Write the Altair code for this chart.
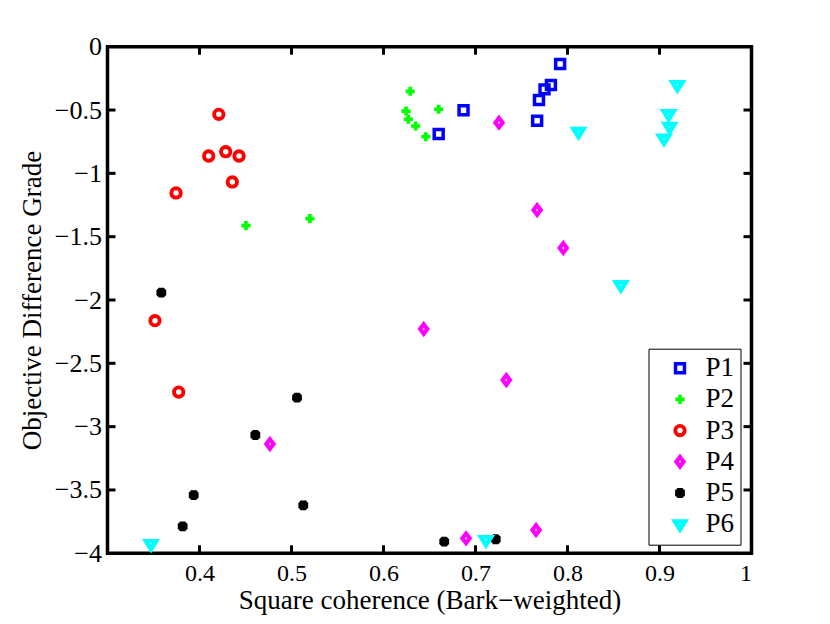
import altair as alt
import pandas as pd

series = ["P1", "P2", "P3", "P4", "P5", "P6"]
colors = ["#0000ff", "#00ff00", "#ff0000", "#ff00ff", "#000000", "#00ffff"]

p1_x = [0.660, 0.687, 0.767, 0.769, 0.775, 0.782, 0.792]
p1_y = [-0.689, -0.502, -0.584, -0.421, -0.337, -0.302, -0.137]
p2_x = [0.629, 0.6245, 0.627, 0.635, 0.646, 0.660, 0.4505, 0.520]
p2_y = [-0.352, -0.508, -0.573, -0.626, -0.711, -0.494, -1.413, -1.358]
p3_x = [0.421, 0.410, 0.4285, 0.443, 0.4357, 0.3745, 0.3516, 0.3774]
p3_y = [-0.534, -0.863, -0.829, -0.863, -1.068, -1.155, -2.163, -2.727]
p4_x = [0.7255, 0.767, 0.7954, 0.6437, 0.4766, 0.7335, 0.6897, 0.7658]
p4_y = [-0.600, -1.289, -1.589, -2.229, -3.137, -2.632, -3.882, -3.816]
p5_x = [0.3585, 0.506, 0.4607, 0.3937, 0.3817, 0.5128, 0.666, 0.722]
p5_y = [-1.942, -2.771, -3.066, -3.540, -3.787, -3.621, -3.908, -3.889]
p6_x = [0.9194, 0.910, 0.9111, 0.9049, 0.812, 0.858, 0.7114, 0.3473]
p6_y = [-0.302, -0.531, -0.632, -0.724, -0.671, -1.882, -3.895, -3.927]

x_ticks = [0.4, 0.5, 0.6, 0.7, 0.8, 0.9, 1.0]
y_ticks = [-4, -3.5, -3, -2.5, -2, -1.5, -1, -0.5, 0]
x_inner_ticks = [0.4, 0.5, 0.6, 0.7, 0.8, 0.9]
y_inner_ticks = [-3.5, -3, -2.5, -2, -1.5, -1, -0.5]

xs = [p1_x, p2_x, p3_x, p4_x, p5_x, p6_x]
ys = [p1_y, p2_y, p3_y, p4_y, p5_y, p6_y]
rows = []
for s, xv, yv in zip(series, xs, ys):
    for a, b in zip(xv, yv):
        rows.append({"series": s, "x": a, "y": b})
df = pd.DataFrame(rows)

shapes = [
    "square",
    "M-1,0L1,0M0,-1L0,1",
    "circle",
    "M0,-1L0.76,0L0,1L-0.76,0Z",
    "M-1,0L1,0M0,-1L0,1M-0.75,-0.75L0.75,0.75M-0.75,0.75L0.75,-0.75",
    "M-1,-0.55L1,-0.55L0,1.05Z",
]
sizes = [80, 100, 110, 320, 60, 260]
widths = [3.5, 4.5, 4, 2.8, 1.8, 3.5]

W = 644
H = 506.6
FONT = "Liberation Serif"

xscale = alt.Scale(domain=[0.3, 1.0], nice=False, zero=False)
yscale = alt.Scale(domain=[-4, 0], nice=False, zero=False)

points = alt.Chart(df).mark_point(filled=False, opacity=1).encode(
    x=alt.X("x:Q", scale=xscale,
            axis=alt.Axis(values=x_ticks, format="~g", title="Square coherence (Bark\u2212weighted)",
                          labelPadding=8, labelFontSize=24,
                          titleBaseline="alphabetic", titleY=55)),
    y=alt.Y("y:Q", scale=yscale,
            axis=alt.Axis(values=y_ticks, format="~g", title="Objective Difference Grade",
                          labelPadding=6, labelFontSize=26,
                          titleBaseline="alphabetic", titleX=-67)),
    color=alt.Color("series:N", scale=alt.Scale(domain=series, range=colors),
                    legend=alt.Legend(title=None, orient="none", legendX=541, legendY=302)),
    shape=alt.Shape("series:N", scale=alt.Scale(domain=series, range=shapes)),
    size=alt.Size("series:N", scale=alt.Scale(domain=series, range=sizes)),
    strokeWidth=alt.StrokeWidth("series:N", scale=alt.Scale(domain=series, range=widths)),
)

tick_df_x = pd.DataFrame({"v": x_inner_ticks})
tick_df_y = pd.DataFrame({"v": y_inner_ticks})
TL = 8
bottom_ticks = alt.Chart(tick_df_x).mark_rule(color="black", strokeWidth=3).encode(
    x=alt.X("v:Q", scale=xscale), y=alt.value(H), y2=alt.value(H - TL))
top_ticks = alt.Chart(tick_df_x).mark_rule(color="black", strokeWidth=3).encode(
    x=alt.X("v:Q", scale=xscale), y=alt.value(0), y2=alt.value(TL))
left_ticks = alt.Chart(tick_df_y).mark_rule(color="black", strokeWidth=3).encode(
    y=alt.Y("v:Q", scale=yscale), x=alt.value(0), x2=alt.value(TL))
right_ticks = alt.Chart(tick_df_y).mark_rule(color="black", strokeWidth=3).encode(
    y=alt.Y("v:Q", scale=yscale), x=alt.value(W), x2=alt.value(W - TL))

chart = alt.layer(bottom_ticks, top_ticks, left_ticks, right_ticks, points).properties(
    width=W, height=H,
    background="white",
    autosize=alt.AutoSizeParams(type="none"),
    padding={"left": 99.5, "top": 38.7, "right": 70.5, "bottom": 62.7},
).configure_view(
    stroke="black", strokeWidth=3.5
).configure_axis(
    grid=False, domain=False, ticks=False,
    labelFont=FONT, labelColor="black",
    titleFont=FONT, titleFontSize=27, titleColor="black", titleFontWeight="normal",
).configure_legend(
    labelFont=FONT, labelFontSize=27, labelColor="black",
    strokeColor="black", fillColor="white", padding=6,
    symbolOffset=12, labelOffset=12, rowPadding=3.2,
    symbolStrokeWidth=3,
)

chart.save("out.html", embed_options={"renderer": "svg", "actions": False})
